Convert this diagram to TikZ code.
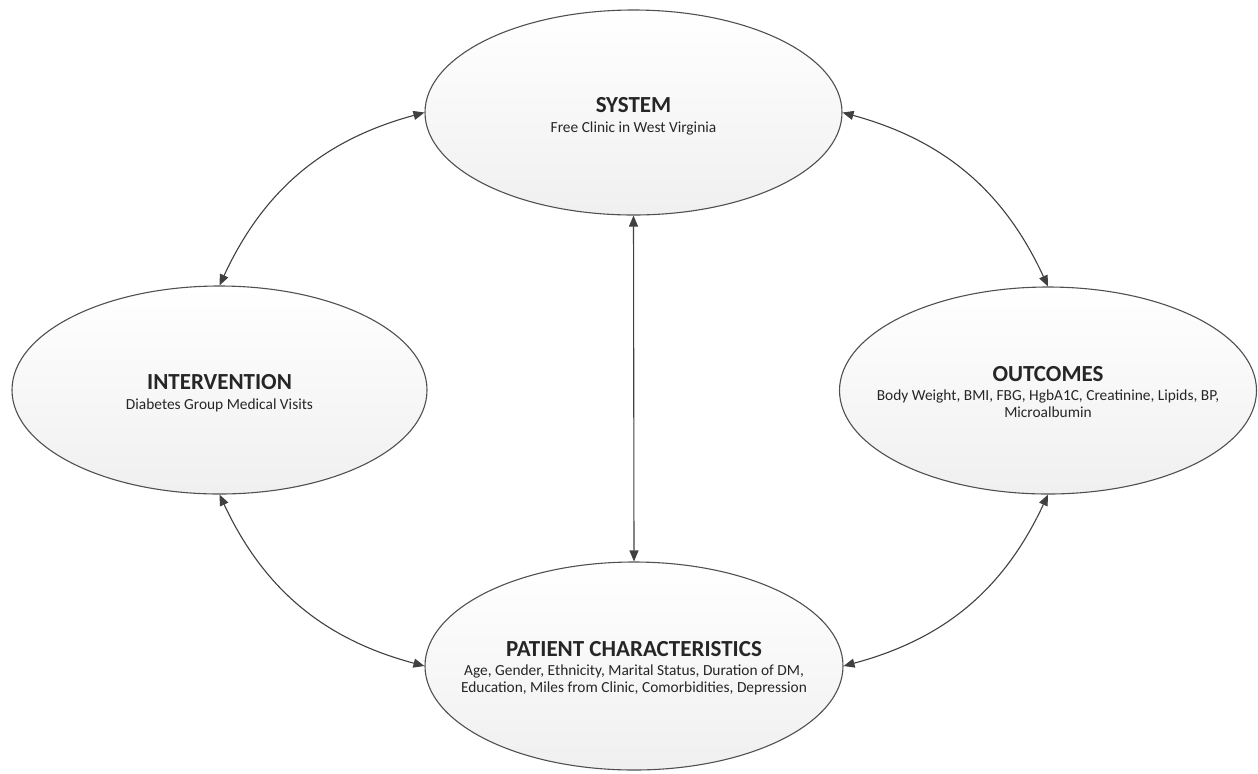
\documentclass[tikz,border=0pt]{standalone}
\usepackage{fontspec}
\setmainfont{Carlito}
\usetikzlibrary{shapes.geometric,arrows.meta}
\definecolor{edgegray}{HTML}{505050}
\definecolor{arrowgray}{HTML}{404040}
\definecolor{txtgray}{HTML}{262626}
\tikzset{
  bubble/.style={ellipse, draw=edgegray, line width=0.55pt, top color=white, bottom color=black!6, inner sep=0pt},
  label text/.style={align=center, text=txtgray, inner sep=0pt, font=\fontsize{7.7}{8.3}\selectfont},
  link/.style={draw=arrowgray, line width=0.55pt, {Triangle[length=5.5pt,width=4.5pt]}-{Triangle[length=5.5pt,width=4.5pt]}},
}
\newcommand{\ttlx}[1]{{\fontsize{11.5}{12}\selectfont\bfseries #1}\\[1.5pt]}
\begin{document}
\begin{tikzpicture}[x=0.5pt,y=-0.5pt]
\useasboundingbox (0,0) rectangle (1258,773);
\node[bubble, minimum width=208.5pt, minimum height=102.5pt] (sys) at (633.5,112.5) {};
\node[bubble, minimum width=207.5pt, minimum height=104pt] (int) at (219.5,390) {};
\node[bubble, minimum width=208.5pt, minimum height=103.5pt] (out) at (1048,390.5) {};
\node[bubble, minimum width=209pt, minimum height=104pt] (pat) at (634,666) {};
\node[label text] (systxt) at (633.5,116) {\ttlx{SYSTEM}Free Clinic in West Virginia};
\node[label text] (inttxt) at (219.5,393) {\ttlx{INTERVENTION}Diabetes Group Medical Visits};
\node[label text] (outtxt) at (1048,392) {\ttlx{OUTCOMES}Body Weight, BMI, FBG, HgbA1C, Creatinine, Lipids, BP,\\Microalbumin};
\node[label text] (pattxt) at (634,668) {\ttlx{PATIENT CHARACTERISTICS}Age, Gender, Ethnicity, Marital Status, Duration of DM,\\Education, Miles from Clinic, Comorbidities, Depression};
\draw[link] (int.north) to[bend left=25] (sys.west);
\draw[link] (sys.east) to[bend left=25] (out.north);
\draw[link] (out.south) to[bend left=25] (pat.east);
\draw[link] (pat.west) to[bend left=25] (int.south);
\draw[link] (sys.south) -- (pat.north);
\end{tikzpicture}
\end{document}
